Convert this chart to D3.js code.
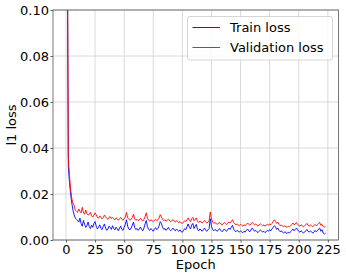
<!DOCTYPE html>
<html>
<head>
<meta charset="utf-8">
<script src="https://cdn.jsdelivr.net/npm/d3@7"></script>
<style>
  body { margin: 0; background: #fff; }
  text { font-family: "DejaVu Sans", sans-serif; }
</style>
</head>
<body>
<svg id="chart" width="346" height="277"></svg>
<script>
// loss per epoch (epoch 0..223)
var trainLoss = [
  0.30, 0.15, 0.032, 0.025, 0.020, 0.016, 0.013, 0.011, 0.0095, 0.0090,
  0.0085, 0.0078, 0.0095, 0.0072, 0.0060, 0.0085, 0.0068, 0.0055, 0.0062, 0.0078,
  0.0058, 0.0050, 0.0064, 0.0055, 0.0072, 0.0080, 0.0060, 0.0048, 0.0055, 0.0066,
  0.0050, 0.0045, 0.0058, 0.0070, 0.0052, 0.0042, 0.0048, 0.0060, 0.0055, 0.0046,
  0.0062, 0.0050, 0.0044, 0.0056, 0.0049, 0.0040, 0.0052, 0.0060, 0.0046, 0.0042,
  0.0055, 0.0068, 0.0088, 0.0060, 0.0048, 0.0044, 0.0052, 0.0065, 0.0078, 0.0055,
  0.0045, 0.0050, 0.0042, 0.0048, 0.0056, 0.0046, 0.0040, 0.0052, 0.0070, 0.0085,
  0.0058, 0.0046, 0.0042, 0.0050, 0.0044, 0.0038, 0.0046, 0.0054, 0.0045, 0.0050,
  0.0062, 0.0080, 0.0072, 0.0055, 0.0046, 0.0050, 0.0042, 0.0048, 0.0055, 0.0045,
  0.0040, 0.0046, 0.0052, 0.0044, 0.0040, 0.0048, 0.0042, 0.0038, 0.0044, 0.0036,
  0.0034, 0.0042, 0.0050, 0.0045, 0.0058, 0.0070, 0.0055, 0.0048, 0.0065, 0.0072,
  0.0050, 0.0060, 0.0068, 0.0046, 0.0040, 0.0048, 0.0044, 0.0038, 0.0045, 0.0052,
  0.0042, 0.0038, 0.0044, 0.0050, 0.0092, 0.0060, 0.0045, 0.0040, 0.0046, 0.0042,
  0.0038, 0.0044, 0.0050, 0.0042, 0.0036, 0.0040, 0.0048, 0.0042, 0.0038, 0.0045,
  0.0052, 0.0046, 0.0055, 0.0064, 0.0048, 0.0040, 0.0036, 0.0042, 0.0038, 0.0034,
  0.0040, 0.0035, 0.0032, 0.0038, 0.0034, 0.0042, 0.0048, 0.0040, 0.0036, 0.0044,
  0.0052, 0.0045, 0.0038, 0.0042, 0.0036, 0.0032, 0.0038, 0.0044, 0.0040, 0.0034,
  0.0038, 0.0032, 0.0036, 0.0042, 0.0038, 0.0045, 0.0040, 0.0048, 0.0055, 0.0062,
  0.0058, 0.0046, 0.0052, 0.0042, 0.0036, 0.0040, 0.0034, 0.0030, 0.0036, 0.0032,
  0.0028, 0.0034, 0.0030, 0.0036, 0.0042, 0.0048, 0.0040, 0.0046, 0.0052, 0.0044,
  0.0038, 0.0034, 0.0040, 0.0036, 0.0030, 0.0034, 0.0040, 0.0046, 0.0038, 0.0034,
  0.0040, 0.0036, 0.0030, 0.0034, 0.0042, 0.0036, 0.0040, 0.0048, 0.0052, 0.0038,
  0.0045, 0.0030, 0.0026, 0.0030
];
var validLoss = [
  0.30, 0.16, 0.036, 0.028, 0.022, 0.018, 0.016, 0.015, 0.013, 0.0125,
  0.0120, 0.0135, 0.0125, 0.0118, 0.0142, 0.0120, 0.0112, 0.0130, 0.0115, 0.0108,
  0.0112, 0.0120, 0.0105, 0.0100, 0.0108, 0.0118, 0.0110, 0.0098, 0.0095, 0.0104,
  0.0100, 0.0092, 0.0098, 0.0108, 0.0100, 0.0094, 0.0090, 0.0098, 0.0102, 0.0093,
  0.0098, 0.0092, 0.0088, 0.0096, 0.0092, 0.0086, 0.0092, 0.0098, 0.0090, 0.0086,
  0.0092, 0.0100, 0.0120, 0.0096, 0.0090, 0.0086, 0.0090, 0.0098, 0.0112, 0.0092,
  0.0086, 0.0090, 0.0084, 0.0088, 0.0094, 0.0088, 0.0082, 0.0090, 0.0102, 0.0118,
  0.0094, 0.0086, 0.0082, 0.0088, 0.0084, 0.0080, 0.0086, 0.0090, 0.0084, 0.0088,
  0.0096, 0.0110, 0.0100, 0.0090, 0.0084, 0.0088, 0.0082, 0.0086, 0.0090, 0.0084,
  0.0080, 0.0084, 0.0088, 0.0082, 0.0078, 0.0084, 0.0080, 0.0076, 0.0080, 0.0074,
  0.0072, 0.0078, 0.0084, 0.0080, 0.0088, 0.0096, 0.0086, 0.0080, 0.0092, 0.0098,
  0.0084, 0.0090, 0.0096, 0.0082, 0.0076, 0.0082, 0.0078, 0.0074, 0.0080, 0.0085,
  0.0078, 0.0074, 0.0078, 0.0084, 0.0122, 0.0092, 0.0078, 0.0072, 0.0076, 0.0072,
  0.0068, 0.0072, 0.0076, 0.0070, 0.0066, 0.0070, 0.0076, 0.0072, 0.0068, 0.0072,
  0.0078, 0.0074, 0.0080, 0.0088, 0.0076, 0.0070, 0.0066, 0.0070, 0.0066, 0.0062,
  0.0068, 0.0064, 0.0060, 0.0066, 0.0062, 0.0068, 0.0074, 0.0068, 0.0064, 0.0070,
  0.0076, 0.0072, 0.0066, 0.0070, 0.0064, 0.0060, 0.0066, 0.0070, 0.0066, 0.0062,
  0.0066, 0.0060, 0.0064, 0.0068, 0.0064, 0.0070, 0.0066, 0.0072, 0.0080, 0.0088,
  0.0082, 0.0072, 0.0078, 0.0068, 0.0062, 0.0066, 0.0060, 0.0058, 0.0062, 0.0058,
  0.0055, 0.0060, 0.0058, 0.0062, 0.0068, 0.0074, 0.0066, 0.0070, 0.0076, 0.0068,
  0.0064, 0.0060, 0.0066, 0.0062, 0.0058, 0.0062, 0.0066, 0.0072, 0.0064, 0.0060,
  0.0066, 0.0062, 0.0058, 0.0062, 0.0068, 0.0062, 0.0066, 0.0072, 0.0076, 0.0064,
  0.0068, 0.0058, 0.0056, 0.0060
];
var xTicks = [0, 25, 50, 75, 100, 125, 150, 175, 200, 225];
var yTicks = [0, 0.02, 0.04, 0.06, 0.08, 0.10];
var seriesNames = ["Train loss", "Validation loss"];
var seriesColors = ["#0000ff", "#ff0000"];

var svg = d3.select("#chart");
var margin = {top: 10, right: 7.5, bottom: 37, left: 53},
    width = 346 - margin.left - margin.right,
    height = 277 - margin.top - margin.bottom;

var n = trainLoss.length - 1;
var pad = n * 0.05; // matplotlib style x margins

var x = d3.scaleLinear().domain([-pad, n + pad]).range([0, width]);
var y = d3.scaleLinear().domain([0, 0.1]).range([height, 0]);

var g = svg.append("g")
    .attr("transform", "translate(" + margin.left + "," + margin.top + ")");

// grid
g.append("g").selectAll("line")
    .data(xTicks).enter().append("line")
    .attr("x1", x).attr("x2", x)
    .attr("y1", 0).attr("y2", height)
    .attr("stroke", "#d0d0d0").attr("stroke-width", 0.8);
g.append("g").selectAll("line")
    .data(yTicks).enter().append("line")
    .attr("y1", y).attr("y2", y)
    .attr("x1", 0).attr("x2", width)
    .attr("stroke", "#d0d0d0").attr("stroke-width", 0.8);

g.append("clipPath").attr("id", "clip")
  .append("rect").attr("width", width).attr("height", height);

var line = d3.line()
    .x(function(d, i) { return x(i); })
    .y(function(d) { return y(d); });

var plot = g.append("g").attr("clip-path", "url(#clip)");
[trainLoss, validLoss].forEach(function(s, k) {
  plot.append("path")
    .datum(s)
    .attr("fill", "none")
    .attr("stroke", seriesColors[k])
    .attr("stroke-width", 0.9)
    .attr("d", line);
});

// axes
var xAxis = g.append("g")
    .attr("transform", "translate(0," + height + ")")
    .call(d3.axisBottom(x).tickValues(xTicks).tickSize(2.5).tickPadding(2.5).tickSizeOuter(0));
var yAxis = g.append("g")
    .call(d3.axisLeft(y).tickValues(yTicks).tickFormat(d3.format(".2f")).tickSize(2.5).tickPadding(1.5).tickSizeOuter(0));
[xAxis, yAxis].forEach(function(a) {
  a.select(".domain").remove();
  a.selectAll("text").attr("font-size", 13).attr("fill", "#000")
    .attr("font-family", "DejaVu Sans, sans-serif");
  a.selectAll("line").attr("stroke", "#333").attr("stroke-width", 0.8);
});

// frame
g.append("rect")
    .attr("width", width).attr("height", height)
    .attr("fill", "none").attr("stroke", "#555").attr("stroke-width", 0.8);

// axis labels
svg.append("text")
    .attr("x", margin.left + width / 2).attr("y", 268.5)
    .attr("text-anchor", "middle").attr("font-size", 13)
    .text("Epoch");
svg.append("text")
    .attr("transform", "translate(16," + (margin.top + height / 2) + ") rotate(-90)")
    .attr("text-anchor", "middle").attr("font-size", 13)
    .text("l1 loss");

// legend
var legend = svg.append("g").attr("transform", "translate(187.5,16.5)");
legend.append("rect")
    .attr("width", 145).attr("height", 43.5).attr("rx", 2.5)
    .attr("fill", "#fff").attr("fill-opacity", 0.8)
    .attr("stroke", "#cccccc").attr("stroke-width", 0.8);
var item = legend.selectAll(".item")
    .data(seriesNames).enter().append("g")
    .attr("transform", function(d, i) { return "translate(0," + (11 + i * 20) + ")"; });
item.append("line")
    .attr("x1", 5).attr("x2", 32.5)
    .attr("stroke", function(d, i) { return seriesColors[i]; })
    .attr("stroke-width", 0.9);
item.append("text")
    .attr("x", 42.5).attr("y", 4.7)
    .attr("font-size", 13)
    .text(function(d) { return d; });
</script>
</body>
</html>
